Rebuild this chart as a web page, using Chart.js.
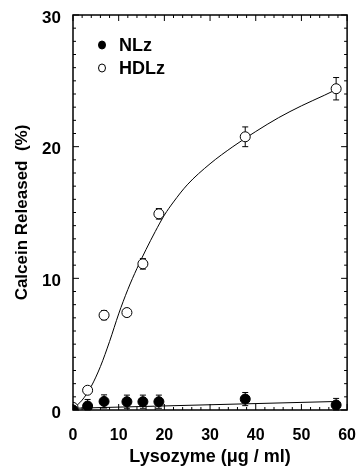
<!DOCTYPE html>
<html>
<head>
<meta charset="utf-8">
<script src="https://cdn.jsdelivr.net/npm/chart.js@4"></script>
<style>
  html, body { margin: 0; padding: 0; background: #fff; }
  #wrap { width: 364px; height: 468px; }
</style>
</head>
<body>
<div id="wrap"><canvas id="chart" width="364" height="468"></canvas></div>
<script>
// ====== Data ======
const doseX = [0, 3.2, 6.8, 11.8, 15.3, 18.8, 37.7, 57.6];
const hdlzY = [0.2, 1.5, 7.2, 7.4, 11.1, 14.9, 20.75, 24.4];
const hdlzErr = [0, 0.2, 0.35, 0.3, 0.4, 0.4, 0.75, 0.85];
const nlzY = [0, 0.3, 0.65, 0.63, 0.63, 0.63, 0.83, 0.38];
const nlzErr = [0, 0.5, 0.5, 0.5, 0.5, 0.5, 0.5, 0.5];

// fitted curves
const hdlzFitX = [0, 2, 4, 6, 8, 10, 12, 14, 16, 18, 20, 22, 25, 30, 35, 40, 45, 50, 55, 58];
const hdlzFitY = [0.1, 0.75, 1.8, 3.3, 5.2, 7.3, 9.15, 10.75, 12.2, 13.55, 14.8, 15.8, 17.1, 18.7, 20.0, 21.15, 22.2, 23.1, 23.9, 24.4];
const nlzFitX = [0, 58];
const nlzFitY = [0.13, 0.65];

const xTicks = [0, 10, 20, 30, 40, 50, 60];
const yTicks = [0, 10, 20, 30];
const legendNames = ["NLz", "HDLz"];

const FONT = "'Liberation Sans', Arial, Helvetica, sans-serif";

const toPoints = (xs, ys) => xs.map((x, i) => ({ x: x, y: ys[i] }));

// ====== Error bars, inward ticks, frame, legend ======
const decorations = {
  id: "decorations",
  beforeDatasetsDraw(chart) {
    const ctx = chart.ctx;
    const xs = chart.scales.x, ys = chart.scales.y;
    ctx.save();
    ctx.strokeStyle = "#000";
    ctx.lineWidth = 1;
    [[hdlzY, hdlzErr], [nlzY, nlzErr]].forEach(([vals, errs]) => {
      vals.forEach((v, i) => {
        if (!errs[i]) return;
        const px = xs.getPixelForValue(doseX[i]);
        const top = ys.getPixelForValue(v + errs[i]);
        const bot = ys.getPixelForValue(Math.max(0, v - errs[i]));
        ctx.beginPath();
        ctx.moveTo(px, top); ctx.lineTo(px, bot);
        ctx.moveTo(px - 3, top); ctx.lineTo(px + 3, top);
        ctx.moveTo(px - 3, bot); ctx.lineTo(px + 3, bot);
        ctx.stroke();
      });
    });
    ctx.restore();
  },
  afterDraw(chart) {
    const ctx = chart.ctx;
    const a = chart.chartArea;
    const xs = chart.scales.x, ys = chart.scales.y;
    ctx.save();
    ctx.strokeStyle = "#000";
    ctx.lineWidth = 1.5;
    ctx.strokeRect(a.left, a.top, a.right - a.left, a.bottom - a.top);
    ctx.lineWidth = 1;
    ctx.beginPath();
    for (let v = 0; v <= 60; v += 2) {
      const px = xs.getPixelForValue(v);
      const len = v % 10 === 0 ? 6 : 3;
      ctx.moveTo(px, a.bottom); ctx.lineTo(px, a.bottom - len);
      ctx.moveTo(px, a.top); ctx.lineTo(px, a.top + len);
    }
    for (let v = 0; v <= 30; v += 1) {
      const py = ys.getPixelForValue(v);
      const len = v % 10 === 0 ? 6 : 3;
      ctx.moveTo(a.left, py); ctx.lineTo(a.left + len, py);
      ctx.moveTo(a.right, py); ctx.lineTo(a.right - len, py);
    }
    ctx.stroke();

    // legend, top-left inside the plot
    ctx.font = "bold 18px " + FONT;
    ctx.textBaseline = "middle";
    ctx.fillStyle = "#000";
    legendNames.forEach((name, i) => {
      const ds = chart.data.datasets[i];
      const mx = a.left + 29, my = a.top + 30 + i * 23;
      ctx.beginPath();
      ctx.ellipse(mx, my, 3.5, 4, 0, 0, Math.PI * 2);
      ctx.fillStyle = ds.backgroundColor;
      ctx.fill();
      ctx.stroke();
      ctx.fillStyle = "#000";
      ctx.fillText(name, a.left + 46, my + 1);
    });
    ctx.restore();
  }
};

new Chart(document.getElementById("chart"), {
  type: "scatter",
  data: {
    datasets: [
      {
        label: "NLz",
        data: toPoints(doseX, nlzY),
        pointStyle: "circle",
        pointRadius: 5,
        backgroundColor: "#000",
        borderColor: "#000",
        borderWidth: 1,
        order: 0
      },
      {
        label: "HDLz",
        data: toPoints(doseX, hdlzY),
        pointStyle: "circle",
        pointRadius: 5,
        backgroundColor: "#fff",
        borderColor: "#000",
        borderWidth: 1,
        order: 0
      },
      {
        label: "fitH",
        type: "line",
        data: toPoints(hdlzFitX, hdlzFitY),
        showLine: true,
        pointRadius: 0,
        borderColor: "#000",
        borderWidth: 1,
        cubicInterpolationMode: "monotone",
        fill: false,
        order: 1
      },
      {
        label: "fitN",
        type: "line",
        data: toPoints(nlzFitX, nlzFitY),
        showLine: true,
        pointRadius: 0,
        borderColor: "#000",
        borderWidth: 1,
        fill: false,
        order: 1
      }
    ]
  },
  options: {
    responsive: false,
    animation: false,
    layout: { padding: { top: 15, right: 6, left: 0, bottom: 0 } },
    plugins: {
      tooltip: { enabled: false },
      legend: { display: false }
    },
    scales: {
      x: {
        type: "linear",
        min: 0,
        max: 60,
        afterBuildTicks: (s) => { s.ticks = xTicks.map(v => ({ value: v })); },
        afterFit: (s) => { s.height = 58; },
        grid: { display: false },
        border: { display: false },
        ticks: {
          padding: 8,
          color: "#000",
          font: { family: FONT, size: 16, weight: "bold" }
        },
        title: {
          display: true,
          text: "Lysozyme (\u03bcg / ml)",
          color: "#000",
          padding: { top: 0, bottom: 0 },
          font: { family: FONT, size: 18, weight: "bold" }
        }
      },
      y: {
        type: "linear",
        min: 0,
        max: 30,
        afterBuildTicks: (s) => { s.ticks = yTicks.map(v => ({ value: v })); },
        afterFit: (s) => { s.width = 73; },
        grid: { display: false },
        border: { display: false },
        ticks: {
          padding: 4,
          labelOffset: 3,
          color: "#000",
          font: { family: FONT, size: 17, weight: "bold" }
        },
        title: {
          display: true,
          text: "Calcein Released  (%)",
          color: "#000",
          padding: { top: 12, bottom: 0 },
          font: { family: FONT, size: 17, weight: "bold" }
        }
      }
    }
  },
  plugins: [decorations]
});
</script>
</body>
</html>
